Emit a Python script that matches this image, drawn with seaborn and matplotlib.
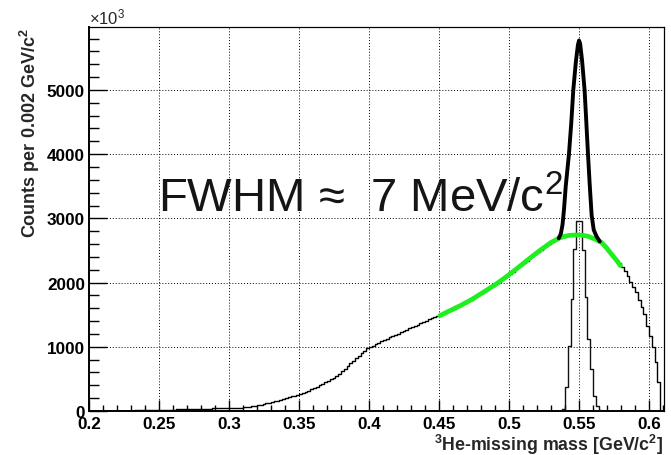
import numpy as np
import pandas as pd
import matplotlib
matplotlib.use("Agg")
import matplotlib.pyplot as plt
import seaborn as sns
from matplotlib.ticker import MultipleLocator, FuncFormatter, FixedLocator

# ---------------- data ----------------
bin_lo = 0.200
bin_width = 0.002

# total 3He-missing-mass spectrum, counts per 0.002 GeV/c^2, bins from 0.200 to 0.610
total_counts = [
    2, 2, 3, 3, 3, 3, 4, 4, 4, 5, 5, 5, 6, 6, 7, 7, 8, 8, 9, 10, 10, 11, 12, 13, 14,
    20, 21, 22, 22, 23, 23, 24, 24, 25, 25, 26, 26, 27, 27, 28, 36, 37, 38, 38, 39, 40, 41, 42, 43, 44,
    45, 46, 48, 50, 53, 56, 62, 68, 76, 82, 90, 98, 108, 118, 128, 136, 148, 160, 172, 185,
    198, 212, 226, 240, 255,
    270, 285, 300, 318, 336, 356, 378, 400, 425, 450, 470, 495, 520, 548, 580,
    620, 660, 700, 740, 780, 820, 860, 900, 940, 975,
    1000, 1020, 1045, 1065, 1085, 1105, 1125, 1145, 1165, 1185, 1205, 1225, 1245, 1265, 1285,
    1305, 1325, 1345, 1365, 1385, 1405, 1425, 1445, 1465, 1485,
    1490, 1510, 1530, 1550, 1575, 1595, 1615, 1640, 1660, 1685, 1710, 1735, 1760, 1785, 1815,
    1840, 1870, 1895, 1925, 1950, 1980, 2010, 2045, 2075, 2105,
    2140, 2170, 2205, 2240, 2275, 2305, 2340, 2380, 2415, 2450, 2480, 2515, 2545, 2575, 2605,
    2635, 2660, 2680, 2700, 2715, 2725, 2735, 2740, 2741, 2741,
    2738, 2735, 2728, 2715, 2700, 2680, 2660, 2635, 2605, 2555, 2495, 2450, 2400, 2355, 2300,
    2238, 2186, 2108, 2004, 1927, 1849, 1734, 1620, 1511, 1329,
    1173, 992, 759, 447, 0,
]

# narrow signal histogram (same binning), first bin starts at 0.536
signal_lo = 0.536
signal_counts = [0, 30, 370, 1020, 1750, 2520, 2960, 2960, 2500, 1770, 1120, 654, 239, 80, 20, 0]

# background fit (green)
bkg_x = [0.4506, 0.458, 0.466, 0.474, 0.482, 0.490, 0.498, 0.506, 0.514, 0.522, 0.530,
         0.537, 0.543, 0.548, 0.553, 0.5565, 0.561, 0.566, 0.5695, 0.5731, 0.5765, 0.5796]
bkg_y = [1485, 1565, 1650, 1745, 1855, 1965, 2090, 2225, 2365, 2500, 2625,
         2705, 2735, 2741, 2735, 2720, 2680, 2627, 2545, 2445, 2355, 2263]

# total fit in the peak region (thick black)
fit_x = [0.5355, 0.5370, 0.5382, 0.5393, 0.5405, 0.5428, 0.5445, 0.5459, 0.5478, 0.5492,
         0.5500, 0.5508, 0.5522, 0.5540, 0.5552, 0.5564, 0.5577, 0.5590, 0.5605, 0.5625, 0.5648]
fit_y = [2690, 2760, 2900, 3150, 3500, 4000, 4500, 5000, 5450, 5700,
         5770, 5720, 5450, 4990, 4500, 4000, 3500, 3050, 2820, 2720, 2640]

x_ticks = [0.2, 0.25, 0.3, 0.35, 0.4, 0.45, 0.5, 0.55, 0.6]
y_ticks = [0, 1000, 2000, 3000, 4000, 5000]
x_label = r"$^{\mathbf{3}}$He-missing mass [GeV/c$^{\mathbf{2}}$]"
y_label = r"Counts per 0.002 GeV/c$^{\mathbf{2}}$"
annotation = r"FWHM ≈  7 MeV/c$^{2}$"
scale_text = r"×10$^{3}$"

# ---------------- styling ----------------
sns.set_style("white")
plt.rcParams["font.family"] = ["Liberation Sans", "DejaVu Sans"]
plt.rcParams["mathtext.fontset"] = "custom"
plt.rcParams["mathtext.rm"] = "Liberation Sans"
plt.rcParams["mathtext.it"] = "Liberation Sans:italic"
plt.rcParams["mathtext.bf"] = "Liberation Sans:bold"

fig = plt.figure(figsize=(6.71, 4.56), dpi=100)
W, H = 671, 456
x0, x1, y0, y1 = 89.1, 664.0, 28.0, 412.0
ax = fig.add_axes([x0 / W, 1 - y1 / H, (x1 - x0) / W, (y1 - y0) / H])

n_tot = len(total_counts)
edges_tot = [round(bin_lo + bin_width * i, 4) for i in range(n_tot + 1)]
centers_tot = [(a + b) / 2 for a, b in zip(edges_tot[:-1], edges_tot[1:])]
df_tot = pd.DataFrame({"mass": centers_tot, "counts": total_counts})

n_sig = len(signal_counts)
edges_sig = [round(signal_lo + bin_width * i, 4) for i in range(n_sig + 1)]
centers_sig = [(a + b) / 2 for a, b in zip(edges_sig[:-1], edges_sig[1:])]
df_sig = pd.DataFrame({"mass": centers_sig, "counts": signal_counts})

sns.histplot(data=df_tot, x="mass", weights="counts", bins=edges_tot, element="step",
             fill=False, color="black", linewidth=1.0, ax=ax, zorder=3)
sns.histplot(data=df_sig, x="mass", weights="counts", bins=edges_sig, element="step",
             fill=False, color="#111111", linewidth=1.0, ax=ax, zorder=3)
sns.lineplot(x=bkg_x, y=bkg_y, color="#1fee1f", linewidth=3.4, sort=False,
             estimator=None, ax=ax, zorder=4)
sns.lineplot(x=fit_x, y=fit_y, color="black", linewidth=2.8, sort=False,
             estimator=None, ax=ax, zorder=5)

ax.set_xlim(0.2, 0.6107)
ax.set_ylim(0, 5980)

ax.xaxis.set_major_locator(FixedLocator(x_ticks))
ax.xaxis.set_minor_locator(MultipleLocator(0.01))
ax.yaxis.set_major_locator(FixedLocator(y_ticks))
ax.yaxis.set_minor_locator(MultipleLocator(200))
ax.xaxis.set_major_formatter(FuncFormatter(lambda v, p: f"{v:g}"))
ax.yaxis.set_major_formatter(FuncFormatter(lambda v, p: f"{v:g}"))

ax.tick_params(axis="both", which="both", direction="in", top=False, right=False,
               bottom=True, left=True, colors="black", width=1.0)
ax.tick_params(axis="x", which="major", length=8, pad=3.5, labelsize=12.3)
ax.tick_params(axis="x", which="minor", length=4)
ax.tick_params(axis="y", which="major", length=13, pad=3, labelsize=12.3)
ax.tick_params(axis="y", which="minor", length=7)
for lab in ax.get_xticklabels() + ax.get_yticklabels():
    lab.set_fontweight("bold")

for side, sp in ax.spines.items():
    sp.set_visible(True)
    sp.set_color("black")
    sp.set_linewidth(1.4 if side in ("left", "bottom") else 0.9)

ax.grid(True, which="major", color="black", linestyle=(0, (1, 2)), linewidth=0.7)
ax.set_axisbelow(True)

ax.set_xlabel(x_label, fontsize=12.8, fontweight="bold", loc="right")
ax.set_ylabel(y_label, fontsize=13, fontweight="bold", loc="top")
ax.xaxis.set_label_coords(0.999, -0.054)
ax.yaxis.set_label_coords(-0.082, 1.0)

ax.text(0.2494, 3115, annotation, fontsize=34, ha="left", va="baseline",
        color="#151515", zorder=6)
fig.text(x0 / W, 1 - 24 / H, scale_text, fontsize=12, ha="left", va="baseline")

fig.savefig("out.png", dpi=100)
